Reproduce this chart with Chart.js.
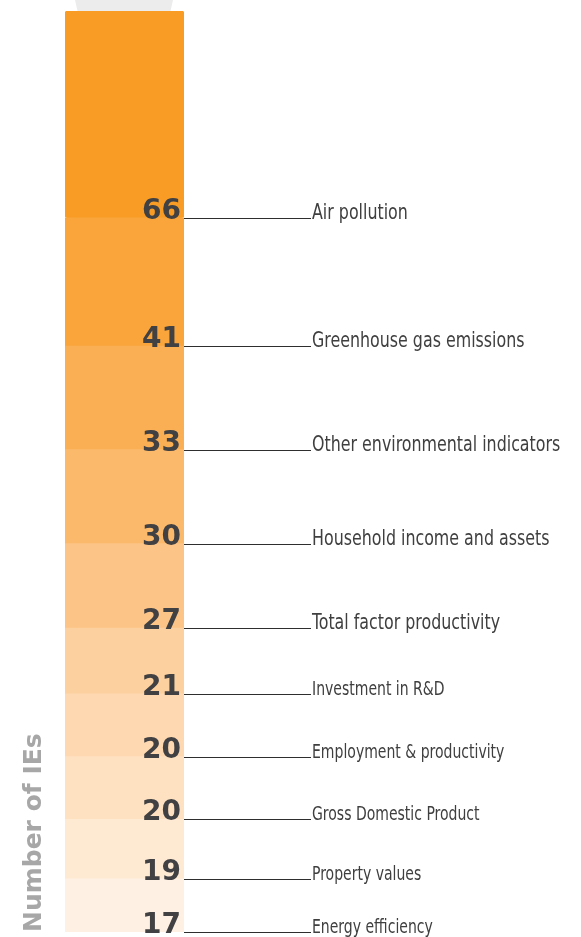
<!DOCTYPE html>
<html>
<head>
<meta charset="utf-8">
<script src="https://cdn.jsdelivr.net/npm/chart.js@4"></script>
<style>
  html, body { margin: 0; padding: 0; background: #fff; }
  #wrap { position: relative; width: 581px; height: 937px; }
</style>
</head>
<body>
<div id="wrap"><canvas id="ieChart"></canvas></div>
<script>
// Datos: de arriba hacia abajo, como en la columna
const categorias = [
  "Air pollution",
  "Greenhouse gas emissions",
  "Other environmental indicators",
  "Household income and assets",
  "Total factor productivity",
  "Investment in R&D",
  "Employment & productivity",
  "Gross Domestic Product",
  "Property values",
  "Energy efficiency"
];
const valores = [66, 41, 33, 30, 27, 21, 20, 20, 19, 17];

// Colores de cada tramo (mismo orden)
const colores = ["#F89C26", "#F9A53B", "#FAAF55", "#FBB96C", "#FCC486",
                 "#FDD09F", "#FDD8B0", "#FEE1C1", "#FEE9D3", "#FEF1E3"];

const total = valores.reduce((a, b) => a + b, 0);

// Chart.js apila desde abajo: se invierte el orden
const datasets = categorias.map((cat, i) => ({
  label: cat,
  data: [valores[i]],
  backgroundColor: colores[i],
  borderWidth: 0,
  borderSkipped: false,
  borderRadius: 3,
  barPercentage: 1,
  categoryPercentage: 1
})).reverse();

const narrowFont = '"Liberation Sans Narrow", "Arial Narrow", "DejaVu Sans Condensed", sans-serif';
let escalaX = 1;
(function checkNarrow() {
  const c = document.createElement("canvas").getContext("2d");
  c.font = "20px " + narrowFont;
  const a = c.measureText("Other environmental indicators").width;
  c.font = '20px "Liberation Sans", Arial, sans-serif';
  const b = c.measureText("Other environmental indicators").width;
  if (a / b > 0.9) escalaX = 0.82;
})();

// Plugin: colgador gris, números, líneas guía y etiquetas
const etiquetasPlugin = {
  id: "etiquetas",
  beforeDatasetsDraw(chart) {
    const ctx = chart.ctx;
    const top = chart.getDatasetMeta(chart.data.datasets.length - 1).data[0];
    const l = top.x - top.width / 2, r = top.x + top.width / 2;
    ctx.save();
    ctx.fillStyle = "#ececec";
    ctx.beginPath();
    ctx.moveTo(l + 10, 0);
    ctx.lineTo(r - 11, 0);
    ctx.lineTo(r - 14, top.y + 2);
    ctx.lineTo(l + 13, top.y + 2);
    ctx.closePath();
    ctx.fill();
    ctx.restore();
  },
  afterDatasetsDraw(chart) {
    const ctx = chart.ctx;
    const n = chart.data.datasets.length;
    chart.data.datasets.forEach((ds, i) => {
      const bar = chart.getDatasetMeta(i).data[0];
      const idx = n - 1 - i;
      const y = bar.base;
      const right = bar.x + bar.width / 2;
      ctx.save();
      // línea guía
      ctx.strokeStyle = "#2e2e2e";
      ctx.lineWidth = 1;
      ctx.beginPath();
      ctx.moveTo(right, Math.round(y) + 0.5);
      ctx.lineTo(right + 127, Math.round(y) + 0.5);
      ctx.stroke();
      // número
      ctx.fillStyle = "#414042";
      ctx.font = 'bold 28px "DejaVu Sans", sans-serif';
      ctx.textAlign = "right";
      ctx.textBaseline = "alphabetic";
      ctx.fillText(String(ds.data[0]), right - 3, y + 1);
      // etiqueta
      const size = idx < 5 ? 21.5 : 19;
      ctx.font = size + "px " + narrowFont;
      ctx.textAlign = "left";
      ctx.fillStyle = "#3f3f3f";
      ctx.translate(right + 128, y + 1);
      ctx.scale(escalaX, 1);
      ctx.fillText(ds.label, 0, 0);
      ctx.restore();
    });
  }
};

new Chart(document.getElementById("ieChart"), {
  type: "bar",
  data: { labels: [""], datasets: datasets },
  options: {
    responsive: true,
    maintainAspectRatio: false,
    animation: false,
    layout: { padding: { left: 0, right: 397, top: 11, bottom: 5 } },
    plugins: { legend: { display: false }, tooltip: { enabled: false } },
    scales: {
      x: { stacked: true, display: false },
      y: {
        stacked: true,
        min: 0,
        max: total,
        ticks: { display: false },
        grid: { display: false, drawTicks: false },
        border: { display: false },
        title: {
          display: true,
          text: "Number of IEs",
          align: "start",
          color: "#a7a7a7",
          font: { family: "'DejaVu Sans', sans-serif", size: 25, weight: "bold" },
          padding: { top: 19, bottom: 16 }
        }
      }
    }
  },
  plugins: [etiquetasPlugin]
});
</script>
</body>
</html>
